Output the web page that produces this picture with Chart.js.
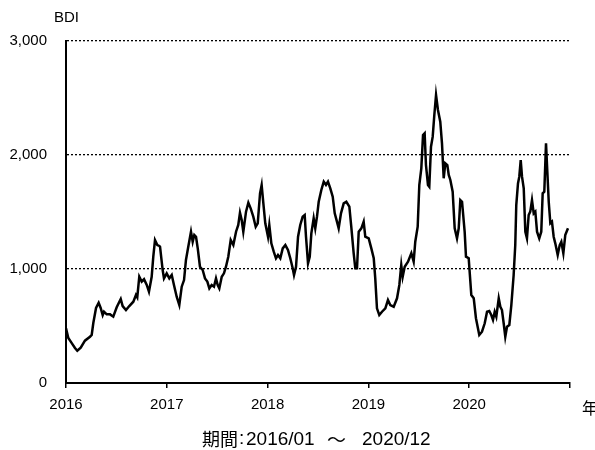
<!DOCTYPE html>
<html>
<head>
<meta charset="utf-8">
<script src="https://cdn.jsdelivr.net/npm/chart.js@4"></script>
<style>
  html, body { margin: 0; padding: 0; background: #fff; }
  #wrap { width: 595px; height: 450px; }
</style>
</head>
<body>
<div id="wrap"><canvas id="bdiChart" width="595" height="450"></canvas></div>
<script>
// decimal year of each reading
const years = [
  2016.000, 2016.023, 2016.057, 2016.089, 2016.112, 2016.146, 2016.188, 2016.238, 2016.255, 2016.271,
  2016.298, 2016.324, 2016.344, 2016.364, 2016.377, 2016.404, 2016.437, 2016.469, 2016.503, 2016.543,
  2016.562, 2016.595, 2016.628, 2016.668, 2016.694, 2016.707, 2016.727, 2016.751, 2016.774, 2016.801,
  2016.823, 2016.850, 2016.866, 2016.883, 2016.906, 2016.926, 2016.933, 2016.959, 2016.972, 2016.999,
  2017.025, 2017.049, 2017.071, 2017.098, 2017.124, 2017.148, 2017.171, 2017.190, 2017.213, 2017.240,
  2017.257, 2017.273, 2017.290, 2017.307, 2017.329, 2017.356, 2017.379, 2017.402, 2017.422, 2017.445,
  2017.468, 2017.488, 2017.505, 2017.521, 2017.545, 2017.567, 2017.587, 2017.610, 2017.634, 2017.660,
  2017.687, 2017.709, 2017.726, 2017.743, 2017.759, 2017.786, 2017.809, 2017.832, 2017.858, 2017.882,
  2017.902, 2017.925, 2017.941, 2017.961, 2017.977, 2018.004, 2018.017, 2018.037, 2018.061, 2018.083,
  2018.103, 2018.126, 2018.150, 2018.176, 2018.202, 2018.225, 2018.249, 2018.262, 2018.282, 2018.302,
  2018.324, 2018.348, 2018.368, 2018.381, 2018.401, 2018.418, 2018.434, 2018.457, 2018.473, 2018.490,
  2018.507, 2018.533, 2018.557, 2018.579, 2018.599, 2018.622, 2018.646, 2018.666, 2018.688, 2018.705,
  2018.728, 2018.755, 2018.781, 2018.811, 2018.830, 2018.854, 2018.870, 2018.887, 2018.904, 2018.930,
  2018.953, 2018.969, 2019.003, 2019.029, 2019.053, 2019.068, 2019.085, 2019.108, 2019.135, 2019.168,
  2019.194, 2019.217, 2019.251, 2019.284, 2019.307, 2019.326, 2019.340, 2019.360, 2019.393, 2019.426,
  2019.449, 2019.465, 2019.489, 2019.505, 2019.525, 2019.542, 2019.558, 2019.571, 2019.591, 2019.604,
  2019.621, 2019.638, 2019.654, 2019.671, 2019.690, 2019.713, 2019.730, 2019.747, 2019.763, 2019.783,
  2019.797, 2019.813, 2019.836, 2019.856, 2019.879, 2019.896, 2019.912, 2019.929, 2019.955, 2019.968,
  2019.995, 2020.021, 2020.045, 2020.067, 2020.100, 2020.127, 2020.154, 2020.177, 2020.199, 2020.219,
  2020.236, 2020.253, 2020.269, 2020.293, 2020.309, 2020.325, 2020.342, 2020.358, 2020.375, 2020.398,
  2020.418, 2020.441, 2020.457, 2020.467, 2020.484, 2020.497, 2020.511, 2020.524, 2020.541, 2020.557,
  2020.573, 2020.590, 2020.606, 2020.623, 2020.640, 2020.656, 2020.673, 2020.695, 2020.715, 2020.729,
  2020.745, 2020.762, 2020.775, 2020.789, 2020.805, 2020.821, 2020.838, 2020.854, 2020.878, 2020.898,
  2020.914, 2020.934, 2020.953, 2020.980
];

const bdi = [
  480, 395, 350, 307, 283, 310, 371, 406, 421, 526,
  658, 704, 658, 596, 625, 602, 602, 582, 664, 737,
  675, 640, 675, 713, 772, 751, 932, 889, 910, 860,
  801, 932, 1108, 1254, 1210, 1202, 1195, 991, 918, 962,
  918, 947, 860, 757, 684, 845, 903, 1079, 1195, 1327,
  1239, 1298, 1283, 1181, 1020, 991, 918, 889, 830, 860,
  845, 918, 860, 830, 932, 962, 1020, 1108, 1254, 1210,
  1327, 1386, 1494, 1430, 1327, 1503, 1582, 1532, 1459, 1371,
  1401, 1664, 1737, 1547, 1401, 1283, 1386, 1225, 1152, 1094,
  1123, 1094, 1181, 1210, 1167, 1094, 1006, 947, 1020, 1283,
  1386, 1459, 1474, 1283, 1050, 1108, 1313, 1445, 1357, 1459,
  1590, 1693, 1766, 1737, 1766, 1708, 1634, 1488, 1415, 1357,
  1488, 1576, 1590, 1547, 1371, 1138, 1006, 1006, 1327, 1357,
  1415, 1283, 1269, 1181, 1094, 918, 655, 596, 625, 655,
  728, 684, 669, 743, 860, 1035, 932, 1020, 1064, 1138,
  1064, 1239, 1371, 1737, 1883, 2175, 2190, 1912, 1737, 1722,
  2073, 2161, 2351, 2526, 2395, 2292, 2102, 1796, 1927, 1912,
  1825, 1781, 1678, 1357, 1269, 1357, 1605, 1590, 1327, 1108,
  1094, 772, 743, 568, 421, 450, 524, 625, 632, 596,
  553, 625, 582, 743, 669, 640, 524, 406, 494, 509,
  684, 947, 1210, 1561, 1751, 1810, 1956, 1810, 1708, 1327,
  1269, 1474, 1503, 1605, 1488, 1503, 1327, 1269, 1327, 1664,
  1678, 2102, 1854, 1590, 1401, 1415, 1283, 1225, 1123, 1210,
  1239, 1138, 1298, 1357
];

const yTicks = [0, 1000, 2000, 3000];
const xTicks = [2016, 2017, 2018, 2019, 2020, 2021];

const numFont = { family: "'Liberation Sans', Arial, sans-serif", size: 15 };
const jpFont = "'Noto Sans CJK JP', sans-serif";

// texts outside the axes: unit label, 年, period caption
const extraText = {
  id: "extraText",
  afterDraw(chart) {
    const { ctx } = chart;
    ctx.save();
    ctx.fillStyle = "#000";
    ctx.textBaseline = "middle";
    ctx.textAlign = "left";
    ctx.font = "15px " + numFont.family;
    ctx.fillText("BDI", 54, 18);
    ctx.font = "16px " + jpFont;
    ctx.fillText("年", 582, 408);

    // caption, set piece by piece to keep the wide spacing of the original
    ctx.font = "18px " + jpFont;
    ctx.fillText("期間", 202, 439);
    ctx.font = "19px " + numFont.family;
    ctx.fillText(":", 239, 439);
    ctx.fillText("2016/01", 246, 440);
    ctx.font = "19px " + jpFont;
    ctx.fillText("～", 327, 440);
    ctx.font = "19px " + numFont.family;
    ctx.fillText("2020/12", 362, 440);
    ctx.restore();
  }
};

new Chart(document.getElementById("bdiChart").getContext("2d"), {
  type: "line",
  data: {
    datasets: [{
      label: "BDI",
      data: years.map((y, i) => ({ x: y, y: bdi[i] })),
      borderColor: "#000",
      borderWidth: 2.5,
      pointRadius: 0,
      tension: 0,
      fill: false
    }]
  },
  plugins: [extraText],
  options: {
    responsive: false,
    animation: false,
    events: [],
    layout: { padding: { left: 0, right: 25, top: 41, bottom: 0 } },
    plugins: {
      legend: { display: false },
      tooltip: { enabled: false }
    },
    scales: {
      x: {
        type: "linear",
        min: xTicks[0],
        max: xTicks[xTicks.length - 1],
        afterBuildTicks: s => { s.ticks = xTicks.map(v => ({ value: v })); },
        afterFit: s => { s.height = 67; },
        grid: { drawOnChartArea: false, drawTicks: true, tickLength: 5, color: "#000", lineWidth: 1.5 },
        border: { display: true, color: "#000", width: 2 },
        ticks: {
          color: "#000",
          font: numFont,
          padding: 8,
          maxRotation: 0,
          callback: v => (v === xTicks[xTicks.length - 1] ? "" : String(v))
        }
      },
      y: {
        min: 0,
        max: 3000,
        afterBuildTicks: s => { s.ticks = yTicks.map(v => ({ value: v })); },
        afterFit: s => { s.width = 66; },
        grid: {
          drawTicks: false,
          color: c => (c.tick && c.tick.value === 0 ? "rgba(0,0,0,0)" : "#000"),
          lineWidth: 1.3
        },
        border: { display: true, color: "#000", width: 2, dash: [2, 2] },
        ticks: {
          color: "#000",
          font: numFont,
          padding: 19,
          callback: v => v.toLocaleString("en-US")
        }
      }
    }
  }
});
</script>
</body>
</html>
